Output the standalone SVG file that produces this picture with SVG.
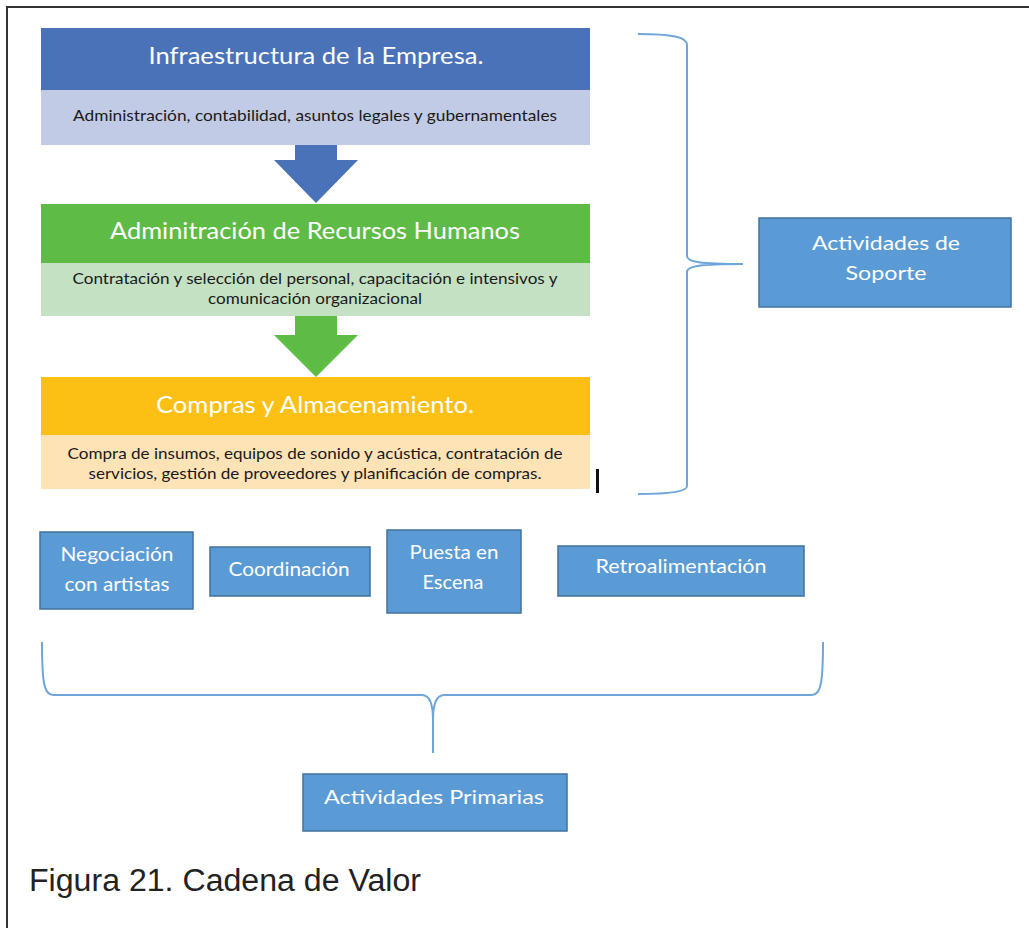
<svg xmlns="http://www.w3.org/2000/svg" width="1029" height="928" viewBox="0 0 1029 928">
<style>
.hd{font-family:Lato,"Open Sans","Liberation Sans",sans-serif;font-size:24px;fill:#fff;text-anchor:middle}
.sb{font-family:Lato,"Open Sans","Liberation Sans",sans-serif;font-size:15px;fill:#1a1a1a;text-anchor:middle}
.bx{fill:#5B9BD5;stroke:#41719C;stroke-width:1.5}
.bt{font-family:Lato,"Open Sans","Liberation Sans",sans-serif;font-size:19px;fill:#fff;text-anchor:middle}
.brace{fill:none;stroke:#6FA6DA;stroke-width:2}
</style>
<rect width="1029" height="928" fill="#fff"/>
<path d="M7,928 L7,7 L1029,7" fill="none" stroke="#333" stroke-width="2"/>

<g id="infraestructura">
<rect x="41" y="28" width="549" height="62" fill="#4A72B9"/>
<text class="hd" x="316" y="64" textLength="335" lengthAdjust="spacingAndGlyphs">Infraestructura de la Empresa.</text>
<rect x="41" y="90" width="549" height="55" fill="#C2CBE6"/>
<text class="sb" x="315" y="121" textLength="484" lengthAdjust="spacingAndGlyphs">Administración, contabilidad, asuntos legales y gubernamentales</text>
</g>

<g id="rrhh">
<rect x="41" y="204" width="549" height="59" fill="#5EBB46"/>
<text class="hd" x="315" y="239" textLength="410" lengthAdjust="spacingAndGlyphs">Adminitración de Recursos Humanos</text>
<rect x="41" y="263" width="549" height="53" fill="#C4E1C3"/>
<text class="sb" x="315" y="284" textLength="485" lengthAdjust="spacingAndGlyphs">Contratación y selección del personal, capacitación e intensivos y</text>
<text class="sb" x="315" y="304" textLength="214" lengthAdjust="spacingAndGlyphs">comunicación organizacional</text>
</g>

<g id="compras">
<rect x="41" y="377" width="549" height="58" fill="#FCBF14"/>
<text class="hd" x="315" y="413" textLength="318" lengthAdjust="spacingAndGlyphs">Compras y Almacenamiento.</text>
<rect x="41" y="435" width="549" height="54" fill="#FEE3B6"/>
<text class="sb" x="315" y="459" textLength="495" lengthAdjust="spacingAndGlyphs">Compra de insumos, equipos de sonido y acústica, contratación de</text>
<text class="sb" x="315" y="479" textLength="453" lengthAdjust="spacingAndGlyphs">servicios, gestión de proveedores y planificación de compras.</text>
<rect x="596" y="469" width="3" height="24" fill="#111"/>
</g>

<g id="soporte">
<rect class="bx" x="759" y="218" width="252" height="89"/>
<text class="bt" x="886" y="250" font-size="21" textLength="148" lengthAdjust="spacingAndGlyphs">Actividades de</text>
<text class="bt" x="886" y="280" font-size="21" textLength="81" lengthAdjust="spacingAndGlyphs">Soporte</text>
</g>

<g id="negociacion">
<rect class="bx" x="40" y="532" width="153" height="77"/>
<text class="bt" x="117" y="561" textLength="113" lengthAdjust="spacingAndGlyphs">Negociación</text>
<text class="bt" x="117" y="591" textLength="105" lengthAdjust="spacingAndGlyphs">con artistas</text>
</g>
<g id="coordinacion">
<rect class="bx" x="210" y="547" width="160" height="49"/>
<text class="bt" x="289" y="576" textLength="121" lengthAdjust="spacingAndGlyphs">Coordinación</text>
</g>
<g id="puesta">
<rect class="bx" x="387" y="530" width="134" height="83"/>
<text class="bt" x="454" y="559" textLength="89" lengthAdjust="spacingAndGlyphs">Puesta en</text>
<text class="bt" x="453" y="589" textLength="61" lengthAdjust="spacingAndGlyphs">Escena</text>
</g>
<g id="retro">
<rect class="bx" x="558" y="546" width="246" height="50"/>
<text class="bt" x="681" y="573" textLength="171" lengthAdjust="spacingAndGlyphs">Retroalimentación</text>
</g>
<g id="primarias">
<rect class="bx" x="303" y="774" width="264" height="57"/>
<text class="bt" x="434" y="804" font-size="20" textLength="220" lengthAdjust="spacingAndGlyphs">Actividades Primarias</text>
</g>

<g id="connectors">
<polygon points="295,145 337,145 337,160 358,160 316,203 274,160 295,160" fill="#4A72B9"/>
<polygon points="295,316 337,316 337,335 358,335 316,377 274,335 295,335" fill="#5EBB46"/>
<path class="brace" d="M638,34 C672,34 687,37 687,45 L687,256 C687,262 700,264 743,264 C700,264 687,266 687,272 L687,486 C687,491 672,494 638,494"/>
<path class="brace" d="M42,642 C42,682 44,695 53,695 L422,695 C430,695 433,705 433,720 C433,705 436,695 444,695 L812,695 C821,695 823,682 823,642 M433,720 L433,753"/>
</g>

<text x="29" y="891" font-family="'Liberation Sans',Arial,sans-serif" font-size="31" fill="#222" textLength="392" lengthAdjust="spacingAndGlyphs">Figura 21. Cadena de Valor</text>
</svg>
